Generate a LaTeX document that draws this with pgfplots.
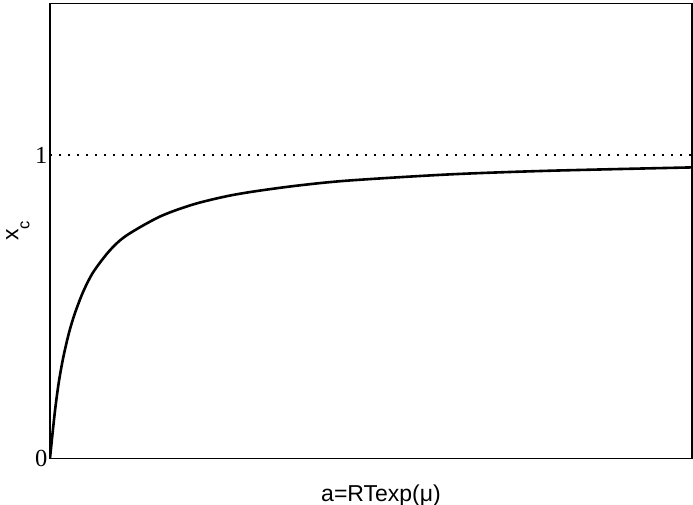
\documentclass[border=0pt]{standalone}
\usepackage{fontspec}
\setmainfont{Liberation Serif}
\setsansfont{Liberation Sans}
\usepackage{pgfplots}
\pgfplotsset{compat=1.18}

\begin{document}
\begin{tikzpicture}
  \begin{axis}[
      at={(0,0)}, anchor=south west,
      scale only axis,
      width=642pt, height=455pt,
      xmin=0, xmax=642, ymin=0, ymax=1.5,
      xtick=\empty,
      ytick={0,1},
      major tick length=0pt,
      axis line style={line width=1.3pt},
      tick label style={font=\fontsize{24.5}{24.5}\selectfont},
      /pgf/number format/assume math mode=true,
      yticklabel style={anchor=east, xshift=1pt},
      xlabel={\sffamily a=RTexp(μ)},
      ylabel={\sffamily x\raisebox{-11pt}{\fontsize{16.5}{16.5}\selectfont c}},
      label style={font=\fontsize{23}{23}\selectfont},
      xlabel style={at={(axis description cs:0.5,0)}, anchor=base, yshift=-43.4pt, xshift=10pt},
      ylabel style={at={(axis description cs:0,0.5)}, anchor=base, yshift=31.7pt},
    ]
    \addplot [black, line width=2pt, dash pattern=on 2pt off 7pt]
      coordinates {(0,1) (642,1)};
    \addplot [black, line width=2.6pt, smooth]
      coordinates {
        (0,0) (1.7,0.055) (3.3,0.106) (5.7,0.176) (9,0.255) (13.3,0.333)
        (19,0.414) (25,0.479) (33.3,0.55) (43.3,0.614) (60,0.686)
        (76.7,0.735) (110,0.797) (143.3,0.837) (176.7,0.864) (206.7,0.881)
        (250,0.9) (300,0.916) (400,0.936) (500,0.948) (642,0.959)
      };
  \end{axis}
  \pgfresetboundingbox
  \path[use as bounding box] (-50pt,-46.7pt) rectangle (643pt,458.3pt);
\end{tikzpicture}
\end{document}
